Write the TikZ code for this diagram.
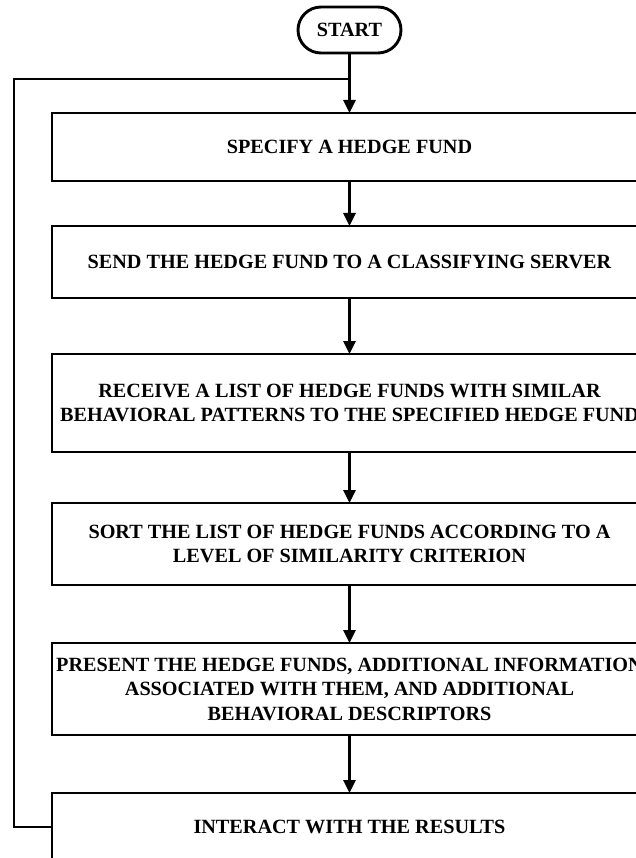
\documentclass[tikz,border=0pt]{standalone}
\usepackage{fontspec}
\setmainfont{Liberation Serif}
\usetikzlibrary{arrows.meta,positioning}

\begin{document}
\begin{tikzpicture}[
font=\fontsize{20.2}{24.5}\selectfont\bfseries,
line width=2.9pt,
outer sep=0pt,
terminal/.style={draw, rounded corners=23pt, minimum width=103pt, minimum height=46pt, inner sep=0pt},
block/.style={draw, minimum width=595pt, align=center, inner sep=0pt},
arrow/.style={-{Triangle[length=13pt,width=12pt]}}
]
\useasboundingbox (0,0) rectangle (636pt,-858pt);

% -------- Start --------
\node[terminal] (start) at (349.5pt,-30pt) {START};
\coordinate[below=26pt of start] (join);

% -------- Steps --------
\node[block, minimum height=68pt, below=60pt of start] (specify) {SPECIFY A HEDGE FUND};
\node[block, minimum height=72pt, below=45pt of specify] (send) {SEND THE HEDGE FUND TO A CLASSIFYING SERVER};
\node[block, minimum height=98pt, below=56pt of send] (receive) {RECEIVE A LIST OF HEDGE FUNDS WITH SIMILAR\\BEHAVIORAL PATTERNS TO THE SPECIFIED HEDGE FUND};
\node[block, minimum height=82pt, below=51pt of receive] (sort) {SORT THE LIST OF HEDGE FUNDS ACCORDING TO A\\LEVEL OF SIMILARITY CRITERION};
\node[block, minimum height=92pt, below=58pt of sort] (present) {PRESENT THE HEDGE FUNDS, ADDITIONAL INFORMATION\\ASSOCIATED WITH THEM, AND ADDITIONAL\\BEHAVIORAL DESCRIPTORS};
\node[block, minimum height=68pt, below=58pt of present] (interact) {INTERACT WITH THE RESULTS};

\draw[arrow] (start) -- (specify);
\draw[arrow] (specify) -- (send);
\draw[arrow] (send) -- (receive);
\draw[arrow] (receive) -- (sort);
\draw[arrow] (sort) -- (present);
\draw[arrow] (present) -- (interact);

% -------- Loop back --------
\draw (interact.west) -- ++(-38pt,0) |- (join);

\end{tikzpicture}
\end{document}
